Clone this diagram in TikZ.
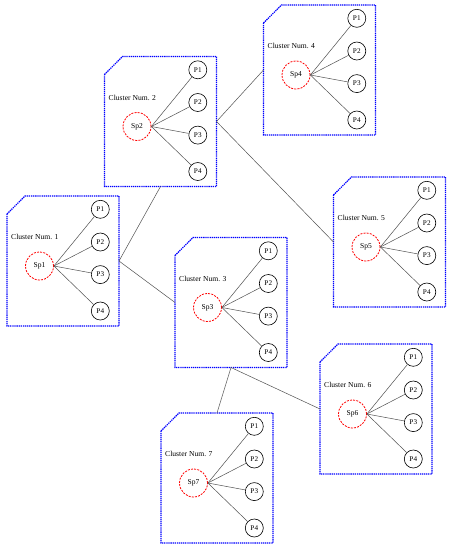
\documentclass[tikz,border=0pt]{standalone}
\usepackage{fontspec}
\setmainfont{Liberation Serif}
\usepackage{tikz}
\usetikzlibrary{
  arrows.meta,
  positioning
}
\definecolor{clBlue}{HTML}{0000FF}
\definecolor{clRed}{HTML}{FF0000}
\definecolor{clLink}{HTML}{505050}
\tikzset{
  cluster/.style={
    minimum width=112pt, minimum height=130pt, inner sep=0pt, outer sep=0pt
  },
  clusterline/.style={draw=clBlue, line width=1.1pt, dash pattern=on 1.3pt off 0.8pt},
  spnode/.style={
    circle, draw=clRed, line width=0.8pt, dash pattern=on 2pt off 1.2pt,
    minimum size=28pt, inner sep=0pt, font=\fontsize{7.5}{9}\selectfont
  },
  pnode/.style={
    circle, draw=black, line width=0.6pt, minimum size=18pt, inner sep=0pt,
    font=\fontsize{7.2}{8}\selectfont
  },
  clabel/.style={font=\fontsize{7.6}{9}\selectfont, inner sep=0pt, anchor=west},
  spoke/.style={draw=clLink, line width=0.5pt},
  link/.style={draw=clLink, line width=0.5pt}
}
\begin{document}
\begin{tikzpicture}[x=1pt, y=-1pt]
  \useasboundingbox (0,0) rectangle (453,550);
  \foreach \i/\cx/\cy in {1/63/261, 2/160.5/121.5, 3/231/302.5, 4/319.5/70,
                          5/389.5/242, 6/376/409, 7/217/478} {
    \node[cluster] (c\i) at (\cx,\cy) {};
    \draw[clusterline] ([yshift=-18pt]c\i.north west) -- ([xshift=18pt]c\i.north west)
      -- (c\i.north east) -- (c\i.south east) -- (c\i.south west) -- cycle;
    \node[clabel] (l\i) at ([xshift=-52pt, yshift=23.7pt]c\i.center) {Cluster Num. \i};
    \node[spnode] (sp\i) at ([xshift=-23.5pt, yshift=-5pt]c\i.center) {Sp\i};
    \foreach \j/\dy in {1/51.7, 2/19, 3/-13.6, 4/-50} {
      \node[pnode] (p\i\j) at ([xshift=37.3pt, yshift=\dy pt]c\i.center) {P\j};
      \draw[spoke] (sp\i.east) -- (p\i\j);
    }
  }
  \draw[link] (c1.east) -- (c2.south);
  \draw[link] (c1.east) -- (c3.west);
  \draw[link] (c2.east) -- (c4.west);
  \draw[link] (c2.east) -- (c5.west);
  \draw[link] (c3.south) -- (c7.north);
  \draw[link] (c3.south) -- (c6.west);
\end{tikzpicture}
\end{document}
